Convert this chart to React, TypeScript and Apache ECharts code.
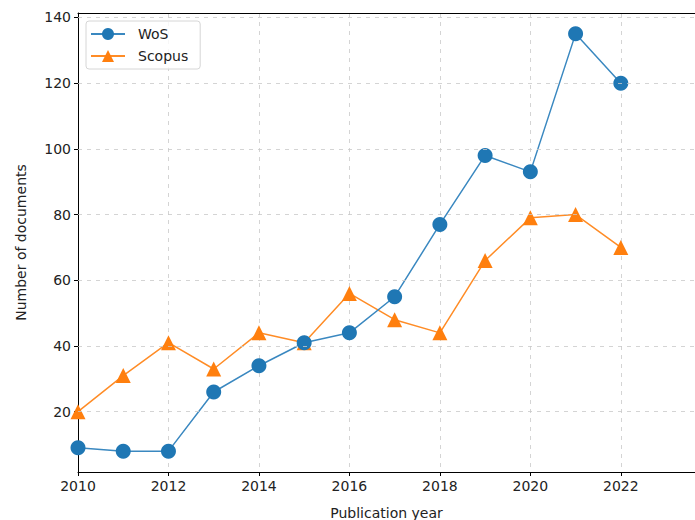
import React, { useEffect, useRef } from "react";
import * as echarts from "echarts";

const years = [2010, 2011, 2012, 2013, 2014, 2015, 2016, 2017, 2018, 2019, 2020, 2021, 2022];
const wos = [9, 8, 8, 26, 34, 41, 44, 55, 77, 98, 93, 135, 120];
const scopus = [20, 31, 41, 33, 44, 41, 56, 48, 44, 66, 79, 80, 70];
const xTicks = [2010, 2012, 2014, 2016, 2018, 2020, 2022];
const yTicks = [20, 40, 60, 80, 100, 120, 140];

export default function App() {
  const ref = useRef<HTMLDivElement>(null);
  useEffect(() => {
    if (!ref.current) return;
    const chart = echarts.init(ref.current, null, { renderer: "svg" });
    const font = "DejaVu Sans";
    const gridStyle = { type: [4, 5], color: "#c9c9c9", width: 0.8 };
    chart.setOption({
      animation: false,
      textStyle: { fontFamily: font },
      grid: { left: 78, right: 0, top: 13, bottom: 48, outerBoundsMode: "none", containLabel: false },
      legend: {
        orient: "vertical",
        left: 86,
        top: 21,
        padding: [6, 12, 6, 4],
        itemWidth: 34,
        itemHeight: 15,
        itemGap: 8,
        borderColor: "#d6d6d6",
        borderWidth: 1,
        borderRadius: 3,
        backgroundColor: "rgba(255,255,255,0.8)",
        textStyle: { fontSize: 14, color: "#222", fontFamily: font, padding: [0, 0, 0, 8] },
        data: ["WoS", "Scopus"],
      },
      xAxis: [
        {
          type: "value",
          min: 2010,
          max: 2023.64,
          interval: 2,
          name: "Publication year",
          nameLocation: "middle",
          nameGap: 34,
          nameTextStyle: { fontSize: 14, color: "#222", fontFamily: font },
          axisLine: { show: true, onZero: false, lineStyle: { color: "#000", width: 1 } },
          axisTick: { show: true, length: 4, customValues: xTicks, lineStyle: { color: "#000" } },
          axisLabel: { customValues: xTicks, fontSize: 14, color: "#222", margin: 7, formatter: (v: number) => String(v) },
          splitLine: { show: true, lineStyle: gridStyle },
        },
        {
          type: "value",
          position: "top",
          min: 2010,
          max: 2023.64,
          axisLine: { show: true, lineStyle: { color: "#000", width: 1 } },
          axisTick: { show: false },
          axisLabel: { show: false },
          splitLine: { show: false },
        },
      ],
      yAxis: {
        type: "value",
        min: 1.65,
        max: 141.35,
        name: "Number of documents",
        nameLocation: "middle",
        nameRotate: 90,
        nameGap: 50,
        nameTextStyle: { fontSize: 14, color: "#222", fontFamily: font },
        axisLine: { show: true, onZero: false, lineStyle: { color: "#000", width: 1 } },
        axisTick: { show: true, length: 4, customValues: yTicks, lineStyle: { color: "#000" } },
        axisLabel: { customValues: yTicks, fontSize: 14, color: "#222", margin: 7 },
        splitLine: { show: false },
      },
      series: [
        {
          name: "grid",
          type: "line",
          data: [],
          silent: true,
          z: 1,
          markLine: {
            silent: true,
            symbol: "none",
            label: { show: false },
            lineStyle: gridStyle,
            data: yTicks.map((v) => ({ yAxis: v })),
          },
        },
        {
          name: "WoS",
          type: "line",
          data: years.map((y, i) => [y, wos[i]]),
          symbol: "circle",
          symbolSize: 15,
          itemStyle: { color: "#1f77b4" },
          lineStyle: { color: "#3a88c0", width: 1.5 },
          z: 3,
        },
        {
          name: "Scopus",
          type: "line",
          data: years.map((y, i) => [y, scopus[i]]),
          symbol: "triangle",
          symbolSize: 15,
          itemStyle: { color: "#ff7f0e" },
          lineStyle: { color: "#ff8c26", width: 1.5 },
          z: 2,
        },
      ],
    });
    return () => chart.dispose();
  }, []);
  return <div ref={ref} style={{ width: 695, height: 520, position: "absolute", left: 0, top: 0 }} />;
}
